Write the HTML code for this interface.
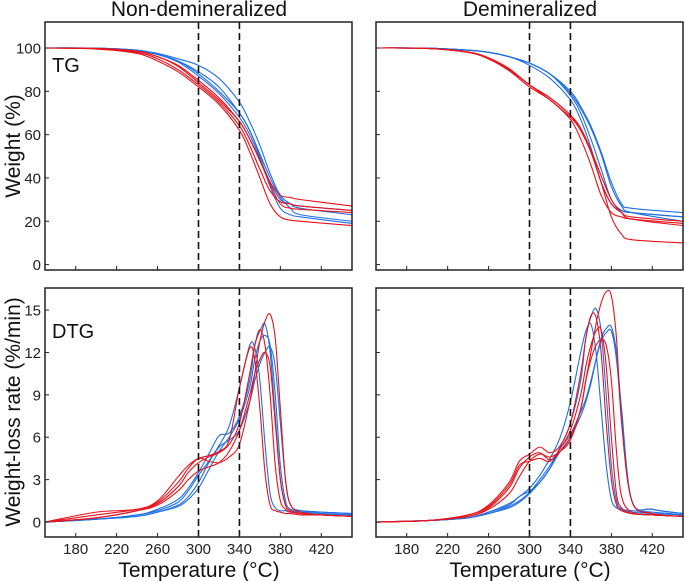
<!DOCTYPE html>
<html><head><meta charset="utf-8"><style>
body{margin:0;background:#fff;}
svg{display:block;font-family:"Liberation Sans",Arial,sans-serif;}
</style></head><body>
<svg id="chart" width="685" height="581" viewBox="0 0 685 581"></svg>
<script>
const tgTemps=[150,200,240,260,280,300,320,340,350,360,370,380,390,400,450];
const dtgTemps=[150,200,240,260,280,290,300,310,320,330,340,350,355,360,365,370,375,380,385,390,400,420,450];
const xTicks=[180,220,260,300,340,380,420];
const tgTicks=[0,20,40,60,80,100];
const dtgTicks=[0,3,6,9,12,15];
const markerLines=[300,340];
// Non-demineralized TG
const ndTgRed1=[100,99.8,98.5,96,92,85,77,66,58,48,37,28,26,25.5,24];
const ndTgRed2=[100,99.5,97.5,94,89,82,74,62,52,40,28,22,20.5,20,18];
const ndTgRed3=[100,99.8,98.5,96,91.5,84,76,66,58,48,38,32,31,30,27];
const ndTgRed4=[100,99.7,98,95,90,83,75,64,55,44,34,29,28,27,25];
const ndTgBlue1=[100,99.9,99,97.5,95,92,86,75,66,55,42,32,28,26,23];
const ndTgBlue2=[100,99.9,99,97,94,89,82,70,62,50,36,26,23,22,19];
const ndTgBlue3=[100,99.9,98.8,97,93.5,87,79,68,60,49,38,30,28,27,25];
const ndTgBlue4=[100,99.9,98.8,97,94,88,80,70,62,51,40,31,26,23,20];
// Demineralized TG
const dTgRed1=[100,99.8,98,95,90,83,76,68,62,52,38,22,14,11.5,10];
const dTgRed2=[100,99.8,98,95,89.5,82,76,67,58,46,32,24,22,21,19];
const dTgRed3=[100,99.8,98.2,95.5,90.5,83,77,69,62,52,38,28,24,22,20];
const dTgRed4=[100,99.8,98,95,90,83,77,69,63,53,41,30,24,21,18];
const dTgBlue1=[100,99.9,99,98,96,93,88,78,70,58,44,30,25,24,22];
const dTgBlue2=[100,99.9,99,98,96,92,86,76,67,54,38,28,25,24,22];
const dTgBlue3=[100,99.9,99,98,96,93,88,80,73,64,52,38,28,26,24];
const dTgBlue4=[100,99.9,99,98,96,93,88,79,72,63,51,36,27,24,20];
// Non-demineralized DTG
const ndDtgRed1=[0,0.5,0.9,1.4,2.8,3.8,4.5,4.3,4.2,4.6,5.5,8.5,10.5,12.8,14.2,14.7,13,8,3,1.2,0.7,0.5,0.4];
const ndDtgRed2=[0,0.7,0.9,1.5,3.2,4.0,4.5,4.7,5.0,5.8,9.5,12.3,11.5,8,3.5,1.2,0.8,0.7,0.6,0.6,0.5,0.5,0.4];
const ndDtgRed3=[0,0.3,0.8,1.3,2.5,3.5,4.2,4.6,4.9,5.5,7.0,10.5,12.5,13.6,12.5,9,4,1.5,0.9,0.7,0.6,0.5,0.4];
const ndDtgRed4=[0,0.3,0.8,1.2,2.2,3.0,3.6,3.9,4.2,5.0,6.5,9,10.5,11.5,12,11,7,3,1.2,0.8,0.6,0.5,0.4];
const ndDtgBlue1=[0,0.2,0.5,0.9,1.6,2.4,3.5,4.8,6.1,6.3,7.5,10,12.5,13.5,14,12,7.5,3,1.2,0.8,0.7,0.6,0.5];
const ndDtgBlue2=[0,0.2,0.4,0.7,1.2,1.8,2.8,4.2,5.3,5.8,6.5,8.5,10,11.2,12,12.4,11,7,3,1.2,0.8,0.7,0.6];
const ndDtgBlue3=[0,0.2,0.5,0.8,1.4,2.2,3.3,4.3,5.4,6.8,9.5,12.5,12.3,10,5.5,2,1,0.8,0.8,0.7,0.7,0.6,0.5];
const ndDtgBlue4=[0,0.2,0.4,0.7,1.1,1.6,2.4,3.7,5.0,6.0,7.3,9.5,11.5,12.8,13.2,12.5,9,4,1.5,0.9,0.8,0.7,0.6];
// Demineralized DTG
const dDtgRed1=[0,0.1,0.4,0.9,2.0,3.2,4.3,4.8,4.6,5.0,5.8,8,10,12,14,15.5,16.3,16,13,7,1.5,0.6,0.4];
const dDtgRed2=[0,0.1,0.5,1.2,2.8,4.3,4.8,5.3,4.9,5.4,7,10.5,13,14.6,14.5,12,7,3,1.2,0.8,0.6,0.5,0.4];
const dDtgRed3=[0,0.1,0.5,1.1,2.6,4.0,4.3,4.5,4.3,5.2,6.5,9,11,12.5,13.5,13.6,11,6,2,1,0.6,0.5,0.4];
const dDtgRed4=[0,0.1,0.4,1.0,2.4,3.8,4.6,4.9,4.4,5.0,6.0,8,10,11.5,12.5,12.9,12.5,10,5,1.8,0.7,0.5,0.4];
const dDtgBlue1=[0,0.1,0.3,0.7,1.2,1.8,2.2,2.8,3.8,5.3,7,10,13,14.5,15.1,13.5,9,4,1.5,0.9,0.7,0.6,0.5];
const dDtgBlue2=[0,0.1,0.3,0.7,1.3,1.8,2.4,3.3,4.5,6.0,8.5,12,13.5,14,12,8,4,1.6,1,0.9,0.8,0.7,0.5];
const dDtgBlue3=[0,0.1,0.3,0.6,1.0,1.4,2.0,2.8,3.8,5.0,6.0,7.5,8.5,9.8,11.5,13,13.7,13.8,12,8,1.5,0.9,0.6];
const dDtgBlue4=[0,0.1,0.3,0.6,1.1,1.5,2.1,3.0,4.0,5.2,6.2,7.8,8.7,10,11.5,12.8,13.4,13.5,11.5,7.5,1.5,0.9,0.6];

const NS="http://www.w3.org/2000/svg";
const svg=document.getElementById('chart');
const BLUE="#1f6fe3",RED="#e8121a";
function mk(tag,attrs,parent){const e=document.createElementNS(NS,tag);for(const k in attrs)e.setAttribute(k,attrs[k]);(parent||svg).appendChild(e);return e;}
function smooth(pts){let d=`M${pts[0][0].toFixed(2)},${pts[0][1].toFixed(2)}`;
 for(let i=0;i<pts.length-1;i++){const p0=pts[i-1]||pts[i],p1=pts[i],p2=pts[i+1],p3=pts[i+2]||p2;
  const c1=[p1[0]+(p2[0]-p0[0])/6,p1[1]+(p2[1]-p0[1])/6],c2=[p2[0]-(p3[0]-p1[0])/6,p2[1]-(p3[1]-p1[1])/6];
  d+=`C${c1[0].toFixed(2)},${c1[1].toFixed(2)} ${c2[0].toFixed(2)},${c2[1].toFixed(2)} ${p2[0].toFixed(2)},${p2[1].toFixed(2)}`;}
 return d;}
function panel(name,x0,y0,y1,ymin,ymax,yticks,showY,showX,temps,series,label){
 const X=t=>x0+(t-150)*307/300;
 const Y=v=>y1-(v-ymin)*(y1-y0)/(ymax-ymin);
 const g=mk('g',{});
 
 
 const cp=mk('clipPath',{id:'c'+name},g);mk('rect',{x:x0,y:y0,width:307,height:y1-y0},cp);
 const lines=mk('g',{'clip-path':`url(#c${name})`},g);
 series.forEach(s=>{const p=mk('path',{d:smooth(temps.map((t,i)=>[X(t),Y(s.v[i])])),fill:'none',stroke:s.c,'stroke-width':1.1},lines);
  
  });
 markerLines.forEach(t=>{const l=mk('line',{x1:X(t),x2:X(t),y1:y0,y2:y1,stroke:'#111','stroke-width':1.6,'stroke-dasharray':'7,4'},g);
  
  });
 xTicks.forEach(t=>{mk('line',{x1:X(t),x2:X(t),y1:y1,y2:y1-4,stroke:'#222','stroke-width':1},g);
  if(showX){const tx=mk('text',{x:X(t),y:y1+17,'text-anchor':'middle','font-size':15,fill:'#222'},g);tx.textContent=t;
   
   }});
 yticks.forEach(v=>{mk('line',{x1:x0,x2:x0+4,y1:Y(v),y2:Y(v),stroke:'#222','stroke-width':1},g);
  if(showY){const tx=mk('text',{x:x0-4,y:Y(v)+5.5,'text-anchor':'end','font-size':15,fill:'#222'},g);tx.textContent=v;
   
   }});
 const fr=mk('rect',{x:x0,y:y0,width:307,height:y1-y0,fill:'none',stroke:'#222','stroke-width':1.5},g);
 
 
 if(label){const tx=mk('text',{x:x0+7,y:y0+50,'font-size':20,fill:'#111'},g);tx.textContent=label;
  
  }
}
const S=(n,c,v)=>({n,c,v});
panel('tg-non-demineralized',45,22,270,-2.5,112,tgTicks,true,false,tgTemps,[
 S('tg-nd-blue-1',BLUE,ndTgBlue1),S('tg-nd-blue-2',BLUE,ndTgBlue2),S('tg-nd-blue-3',BLUE,ndTgBlue3),S('tg-nd-blue-4',BLUE,ndTgBlue4),
 S('tg-nd-red-1',RED,ndTgRed1),S('tg-nd-red-2',RED,ndTgRed2),S('tg-nd-red-3',RED,ndTgRed3),S('tg-nd-red-4',RED,ndTgRed4)],'TG');
panel('tg-demineralized',376,22,270,-2.5,112,tgTicks,false,false,tgTemps,[
 S('tg-d-blue-1',BLUE,dTgBlue1),S('tg-d-blue-2',BLUE,dTgBlue2),S('tg-d-blue-3',BLUE,dTgBlue3),S('tg-d-blue-4',BLUE,dTgBlue4),
 S('tg-d-red-1',RED,dTgRed1),S('tg-d-red-2',RED,dTgRed2),S('tg-d-red-3',RED,dTgRed3),S('tg-d-red-4',RED,dTgRed4)],null);
panel('dtg-non-demineralized',45,288,537,-1.06,16.56,dtgTicks,true,true,dtgTemps,[
 S('dtg-nd-blue-1',BLUE,ndDtgBlue1),S('dtg-nd-blue-2',BLUE,ndDtgBlue2),S('dtg-nd-blue-3',BLUE,ndDtgBlue3),S('dtg-nd-blue-4',BLUE,ndDtgBlue4),
 S('dtg-nd-red-1',RED,ndDtgRed1),S('dtg-nd-red-2',RED,ndDtgRed2),S('dtg-nd-red-3',RED,ndDtgRed3),S('dtg-nd-red-4',RED,ndDtgRed4)],'DTG');
panel('dtg-demineralized',376,288,537,-1.06,16.56,dtgTicks,false,true,dtgTemps,[
 S('dtg-d-blue-1',BLUE,dDtgBlue1),S('dtg-d-blue-2',BLUE,dDtgBlue2),S('dtg-d-blue-3',BLUE,dDtgBlue3),S('dtg-d-blue-4',BLUE,dDtgBlue4),
 S('dtg-d-red-1',RED,dDtgRed1),S('dtg-d-red-2',RED,dDtgRed2),S('dtg-d-red-3',RED,dDtgRed3),S('dtg-d-red-4',RED,dDtgRed4)],null);
function txt(name,s,x,y,size,rot){const t=mk('text',{x,y,'text-anchor':'middle','font-size':size,fill:'#111'});
 if(rot)t.setAttribute('transform',`rotate(-90 ${x} ${y})`);t.textContent=s;
 
 }
txt('title-non-demineralized','Non-demineralized',199,16,21);
txt('title-demineralized','Demineralized',530,16,21);
txt('y-axis-title-tg','Weight (%)',20,146,21,true);
txt('y-axis-title-dtg','Weight-loss rate (%/min)',20,412,21,true);
txt('x-axis-title-left','Temperature (°C)',199,577,21);
txt('x-axis-title-right','Temperature (°C)',530,577,21);
</script>
</body></html>
